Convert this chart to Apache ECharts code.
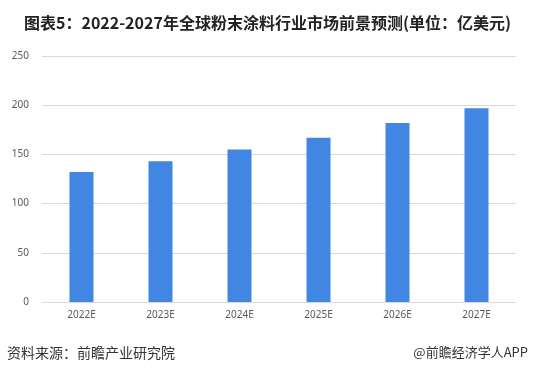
<!DOCTYPE html>
<html><head><meta charset="utf-8">
<script src="https://cdn.jsdelivr.net/npm/echarts@6/dist/echarts.min.js"></script>
<style>html,body{margin:0;padding:0;background:#fff}#c{width:533px;height:374px}</style>
</head><body><div id="c"></div>
<script>
var categories = ['2022E','2023E','2024E','2025E','2026E','2027E'];
var values = [132, 143, 155, 167, 182, 197];
var yTicks = [0, 50, 100, 150, 200, 250];
var titleText = '图表5：2022-2027年全球粉末涂料行业市场前景预测(单位：亿美元)';
var sourceText = '资料来源：前瞻产业研究院';
var brandText = '@前瞻经济学人APP';

var chart = echarts.init(document.getElementById('c'), null, {renderer:'canvas'});
chart.setOption({
  animation: false,
  backgroundColor: '#fff',
  title: {
    text: titleText, left: 19, top: 10,
    textStyle: {fontFamily: '"Noto Sans CJK SC", sans-serif', fontSize: 16, fontWeight: 'bold', color: '#222'}
  },
  graphic: [
    {type:'text', left: 7, top: 346, style:{text: sourceText, font: '14px "Noto Sans CJK SC", sans-serif', fill:'#333'}},
    {type:'text', right: 5, top: 346, style:{text: brandText, font: '13px "Noto Sans CJK SC", sans-serif', fill:'#333'}}
  ],
  grid: {left: 42, right: 17, top: 56, bottom: 72},
  xAxis: {
    type: 'category', data: categories,
    axisLine: {lineStyle: {color: '#d9d9d9'}},
    axisTick: {show: false},
    axisLabel: {color: '#595959', fontSize: 10, fontFamily: '"Noto Sans", sans-serif', margin: 8}
  },
  yAxis: {
    type: 'value', min: yTicks[0], max: yTicks[yTicks.length-1], interval: 50,
    axisLine: {show: false}, axisTick: {show: false},
    splitLine: {lineStyle: {color: '#d9d9d9'}},
    axisLabel: {color: '#595959', fontSize: 10, fontFamily: '"Noto Sans", sans-serif', margin: 13}
  },
  series: [{
    type: 'bar', data: values, barWidth: 24,
    itemStyle: {color: '#4286E3'}
  }]
});
</script></body></html>
